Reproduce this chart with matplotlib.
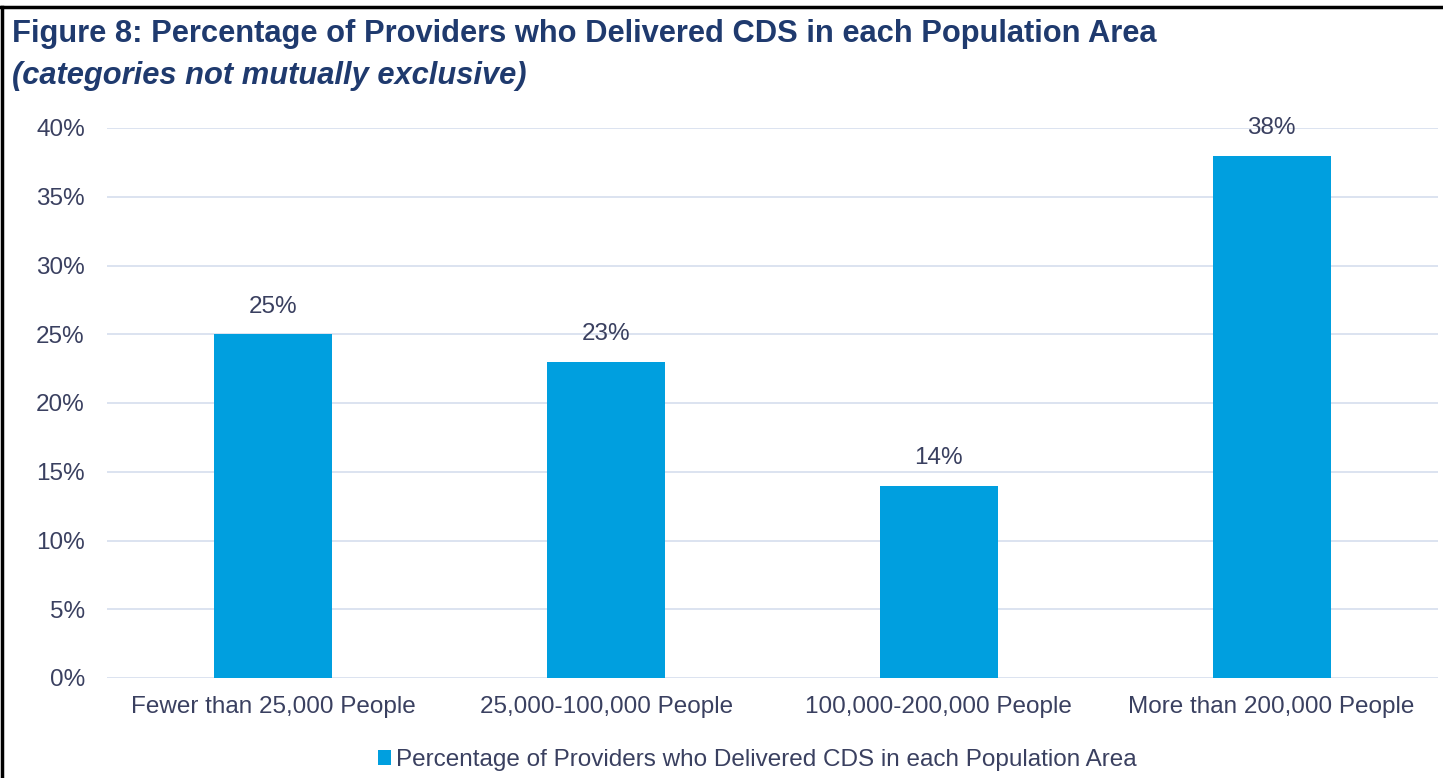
import matplotlib.pyplot as plt
import matplotlib.lines as mlines
from matplotlib.ticker import FuncFormatter

categories = ['Fewer than 25,000 People', '25,000-100,000 People',
              '100,000-200,000 People', 'More than 200,000 People']
values = [25, 23, 14, 38]
series_name = 'Percentage of Providers who Delivered CDS in each Population Area'
yticks = [0, 5, 10, 15, 20, 25, 30, 35, 40]

plt.rcParams['font.family'] = ['Liberation Sans', 'DejaVu Sans']

bar_color = '#009FDF'
navy = '#1F3A6E'
text_color = '#3A4060'
grid_color = '#D6DEEE'

fig = plt.figure(figsize=(14.43, 7.78), dpi=100)
ax = fig.add_axes([107 / 1443, 1 - 678 / 778, (1438 - 107) / 1443, 550 / 778])

x = range(len(categories))
bars = ax.bar(x, values, width=0.355, color=bar_color, zorder=3, label=series_name)

for b, v in zip(bars, values):
    ax.text(b.get_x() + b.get_width() / 2, v + 1.2, f'{v}%', ha='center', va='bottom',
            fontsize=17.5, color=text_color)

ax.set_xlim(-0.5, 3.5)
ax.set_ylim(0, 40)
ax.set_yticks(yticks)
ax.yaxis.set_major_formatter(FuncFormatter(lambda v, p: f'{v:.0f}%'))
ax.set_xticks(list(x))
ax.set_xticklabels(categories)
ax.grid(axis='y', color=grid_color, linewidth=1.2, zorder=0)
ax.tick_params(length=0, labelsize=17.5, labelcolor=text_color)
ax.tick_params(axis='y', pad=16)
ax.tick_params(axis='x', pad=13)
for s in ax.spines.values():
    s.set_visible(False)

fig.text(12 / 1443, 1 - 34 / 778, 'Figure 8: Percentage of Providers who Delivered CDS in each Population Area',
         fontsize=22.2, fontweight='bold', color=navy, va='center', ha='left')
fig.text(12 / 1443, 1 - 76 / 778, '(categories not mutually exclusive)',
         fontsize=22.2, fontweight='bold', style='italic', color=navy, va='center', ha='left')

leg = fig.legend(handles=[bars], labels=[series_name], loc='center', bbox_to_anchor=(757 / 1443, 1 - 760 / 778),
                 frameon=False, fontsize=17.5, handlelength=0.55, handleheight=0.55, handletextpad=0.2,
                 labelcolor=text_color)

# figure border on left and top
fig.add_artist(mlines.Line2D([2 / 1443, 2 / 1443], [0, 1 - 7 / 778], color='black', linewidth=2.5,
                             transform=fig.transFigure))
fig.add_artist(mlines.Line2D([0, 1], [1 - 7 / 778, 1 - 7 / 778], color='black', linewidth=2.5,
                             transform=fig.transFigure))

fig.savefig('out.png', dpi=100)
